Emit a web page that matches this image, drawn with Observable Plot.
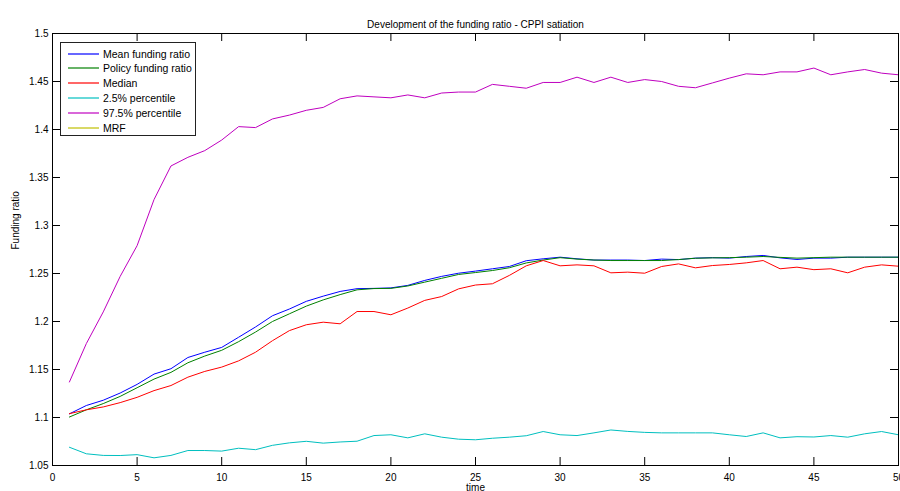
<!DOCTYPE html>
<html>
<head>
<meta charset="utf-8">
<script src="https://cdn.jsdelivr.net/npm/d3@7"></script>
<script src="https://cdn.jsdelivr.net/npm/@observablehq/plot@0.6"></script>
<style>
  body { margin: 0; background: #fff; overflow: hidden; }
  #wrap { position: relative; width: 900px; height: 491px; font-family: "Liberation Sans", Arial, sans-serif; }
  #legend { position: absolute; left: 60px; top: 42px; width: 134px; height: 92px; border: 1px solid #222; background: #fff; font-size: 10.5px; color: #000; }
  #legend .row { position: absolute; left: 0; height: 14px; display: flex; align-items: center; white-space: nowrap; }
  #legend svg { margin-left: 7px; margin-right: 4px; }
</style>
</head>
<body>
<div id="wrap"></div>
<script>
const title = "Development of the funding ratio - CPPI satiation";
const xLabel = "time";
const yLabel = "Funding ratio";

const time = [1,2,3,4,5,6,7,8,9,10,11,12,13,14,15,16,17,18,19,20,21,22,23,24,25,26,27,28,29,30,31,32,33,34,35,36,37,38,39,40,41,42,43,44,45,46,47,48,49,50];

const seriesNames = ["Mean funding ratio", "Policy funding ratio", "Median", "2.5% percentile", "97.5% percentile", "MRF"];
const seriesColors = ["#0000ff", "#008000", "#ff0000", "#00bfbf", "#bf00bf", "#bfbf00"];

const meanFR = [1.1038,1.1125,1.118,1.1255,1.1345,1.1452,1.1508,1.1625,1.168,1.173,
  1.1836,1.1943,1.206,1.213,1.221,1.2264,1.2313,1.2342,1.2345,1.235,
  1.2376,1.2428,1.247,1.2503,1.2525,1.2549,1.2573,1.2633,1.2653,1.267,
  1.2653,1.264,1.264,1.264,1.2635,1.265,1.2645,1.266,1.2665,1.266,
  1.2677,1.2688,1.2663,1.2646,1.266,1.266,1.267,1.267,1.267,1.267];

const policyFR = [1.1005,1.108,1.1145,1.122,1.131,1.14,1.147,1.157,1.164,1.170,
  1.179,1.189,1.200,1.208,1.216,1.2225,1.228,1.233,1.2343,1.2345,
  1.237,1.241,1.245,1.249,1.251,1.2531,1.256,1.261,1.264,1.2665,
  1.265,1.264,1.2635,1.2635,1.2635,1.2635,1.2645,1.2659,1.2663,1.2665,
  1.267,1.2677,1.2668,1.266,1.2665,1.267,1.267,1.267,1.267,1.267];

const medianFR = [1.104,1.108,1.111,1.1155,1.121,1.128,1.1333,1.142,1.148,1.1525,
  1.159,1.168,1.180,1.1905,1.1966,1.1993,1.1976,1.2104,1.2104,1.207,
  1.214,1.222,1.226,1.234,1.238,1.2393,1.248,1.258,1.2635,1.258,
  1.259,1.258,1.2507,1.2514,1.2503,1.2573,1.260,1.2559,1.2583,1.2594,
  1.2611,1.2635,1.2549,1.2566,1.254,1.2549,1.2507,1.2566,1.259,1.2576];

const p025 = [1.069,1.0622,1.0605,1.0604,1.0613,1.058,1.0605,1.0656,1.0656,1.065,
  1.068,1.0665,1.071,1.0736,1.0752,1.0733,1.0745,1.0753,1.0812,1.082,
  1.0788,1.083,1.0795,1.0774,1.0768,1.0784,1.0795,1.081,1.0854,1.082,
  1.0812,1.084,1.087,1.0855,1.0845,1.084,1.084,1.084,1.084,1.082,
  1.0802,1.084,1.0788,1.080,1.0797,1.0812,1.0795,1.083,1.0854,1.082];

const p975 = [1.137,1.177,1.210,1.247,1.279,1.327,1.362,1.371,1.378,1.389,
  1.403,1.402,1.411,1.415,1.420,1.423,1.432,1.435,1.434,1.433,
  1.436,1.433,1.438,1.439,1.439,1.447,1.445,1.443,1.449,1.449,
  1.4545,1.449,1.4545,1.449,1.452,1.450,1.445,1.4435,1.4485,1.4535,
  1.458,1.457,1.460,1.460,1.464,1.457,1.460,1.4625,1.4587,1.457];

const xTicks = [0,5,10,15,20,25,30,35,40,45,50];
const yTicks = [1.05,1.1,1.15,1.2,1.25,1.3,1.35,1.4,1.45,1.5];

const seriesValues = [meanFR, policyFR, medianFR, p025, p975];
const rows = [];
seriesValues.forEach((vals, s) => vals.forEach((v, i) => rows.push({t: time[i], v, name: seriesNames[s]})));

const W = 900, H = 491, mT = 33, mB = 26, mL = 52, mR = 2;
const frameH = H - mT - mB, frameW = W - mL - mR, tick = 8;

const chart = Plot.plot({
  width: W, height: H,
  marginTop: mT, marginBottom: mB, marginLeft: mL, marginRight: mR,
  style: {fontFamily: '"Liberation Sans", Arial, sans-serif', fontSize: "10px", color: "#000", background: "#fff"},
  x: {domain: [0, 50]},
  y: {domain: [1.05, 1.5]},
  color: {domain: seriesNames, range: seriesColors},
  marks: [
    Plot.lineY(rows, {x: "t", y: "v", z: "name", stroke: "name", strokeWidth: 1}),
    Plot.tickX(xTicks, {x: d => d, insetTop: frameH - tick, stroke: "#000"}),
    Plot.tickX(xTicks, {x: d => d, insetBottom: frameH - tick, stroke: "#000"}),
    Plot.tickY(yTicks, {y: d => d, insetRight: frameW - tick, stroke: "#000"}),
    Plot.tickY(yTicks, {y: d => d, insetLeft: frameW - tick, stroke: "#000"}),
    Plot.frame({stroke: "#000"}),
    Plot.axisX({ticks: xTicks, tickSize: 0, tickPadding: 8, label: null, tickFormat: d => String(d)}),
    Plot.axisY({ticks: yTicks, tickSize: 0, tickPadding: 4, label: null, tickFormat: d => String(+d.toFixed(2))}),
    Plot.text([title], {text: d => d, frameAnchor: "top", dy: -13, fontSize: 10}),
    Plot.text([xLabel], {text: d => d, frameAnchor: "bottom", dy: 25, fontSize: 10}),
    Plot.text([yLabel], {text: d => d, frameAnchor: "left", dx: -37, rotate: -90, fontSize: 10})
  ]
});

const wrap = document.getElementById("wrap");
wrap.appendChild(chart);

const NS = "http://www.w3.org/2000/svg";
const legend = document.createElement("div");
legend.id = "legend";
seriesNames.forEach((name, i) => {
  const row = document.createElement("div");
  row.className = "row";
  row.style.top = (3.5 + i * 14.8) + "px";
  const sw = document.createElementNS(NS, "svg");
  sw.setAttribute("width", "31");
  sw.setAttribute("height", "4");
  const ln = document.createElementNS(NS, "line");
  ln.setAttribute("x1", "0"); ln.setAttribute("x2", "31");
  ln.setAttribute("y1", "2"); ln.setAttribute("y2", "2");
  ln.setAttribute("stroke", seriesColors[i]);
  ln.setAttribute("stroke-width", "1.2");
  sw.appendChild(ln);
  const label = document.createElement("span");
  label.textContent = name;
  row.appendChild(sw);
  row.appendChild(label);
  legend.appendChild(row);
});
wrap.appendChild(legend);
</script>
</body>
</html>
